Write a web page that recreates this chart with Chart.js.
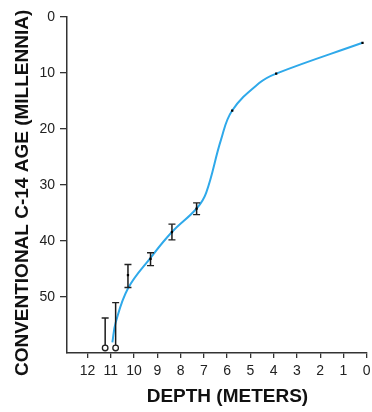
<!DOCTYPE html>
<html>
<head>
<meta charset="utf-8">
<script src="https://cdn.jsdelivr.net/npm/chart.js@4.4.0/dist/chart.umd.min.js"></script>
<style>
  html,body{margin:0;padding:0;background:#fff;}
  #wrap{width:372px;height:412px;}
</style>
</head>
<body>
<div id="wrap"><canvas id="c" width="372" height="412"></canvas></div>
<script>
// dated samples (depth in m, age in ka)
const sampleDepth = [0.18, 3.89, 5.78, 7.31, 8.37, 9.29, 10.26];
const sampleAge   = [4.6, 10.1, 16.7, 34.2, 38.4, 43.2, 46.1];

// error bars: lower/upper age for each bar
const errDepth = [7.31, 8.37, 9.29, 10.26, 10.79, 11.24];
const errLow   = [33.2, 37.0, 42.1, 44.2, 51.0, 53.75];
const errHigh  = [35.3, 39.8, 44.4, 48.3, 59.1, 59.1];
// bars that are only lower limits (circle at the bottom)
const limitBar = [false, false, false, false, true, true];

// fitted age curve
const curveDepth = [0.18, 3.89, 4.62, 5.78, 6.26, 6.9, 7.31, 8.37, 9.29, 10.25, 10.79, 10.93];
const curveAge   = [4.6, 10.1, 11.8, 16.7, 21.9, 31.4, 34.2, 38.4, 43.0, 48.4, 54.6, 58.1];

const xTicks = [0,1,2,3,4,5,6,7,8,9,10,11,12];
const yTicks = [0,10,20,30,40,50];

const FONT = "'Liberation Sans', Arial, sans-serif";
const AXIS = '#333';

// build error bar polyline with gaps between bars
const errPts = [];
const errStyles = [];
errDepth.forEach((d,i)=>{
  errPts.push({x:d, y:errLow[i]});  errStyles.push('line');
  errPts.push({x:d, y:errHigh[i]}); errStyles.push(limitBar[i] ? 'circle' : 'line');
  errPts.push({x:d, y:null});       errStyles.push(false);
});

const ctx = document.getElementById('c').getContext('2d');
new Chart(ctx, {
  type:'scatter',
  data:{
    datasets:[
      {
        label:'curve', type:'line',
        data: curveDepth.map((d,i)=>({x:d, y:curveAge[i]})),
        borderColor:'#2fa9ea', borderWidth:2, pointRadius:0,
        tension:0.4, fill:false, order:3
      },
      {
        label:'errors', type:'line',
        data: errPts, spanGaps:false,
        borderColor:'#1a1a1a', borderWidth:1.5,
        pointStyle: c => errStyles[c.dataIndex],
        pointRadius: c => errStyles[c.dataIndex]==='circle' ? 2.8 : 3.5,
        pointBorderColor:'#222', pointBackgroundColor:'#fff', pointBorderWidth:1.3,
        order:2
      },
      {
        label:'samples',
        data: sampleDepth.map((d,i)=>({x:d, y:sampleAge[i]})),
        pointStyle:'rect', pointRadius:1.6,
        backgroundColor:'#000', borderColor:'#000', borderWidth:0,
        order:1
      }
    ]
  },
  options:{
    responsive:false, animation:false,
    layout:{padding:{left:0, right:3, top:17, bottom:0}},
    plugins:{legend:{display:false}, tooltip:{enabled:false}},
    scales:{
      x:{
        type:'linear', reverse:true, min:0, max:12.88,
        afterBuildTicks: s => { s.ticks = xTicks.map(v=>({value:v})); },
        afterFit: s => { s.height = 59; },
        grid:{drawOnChartArea:false, drawTicks:true, tickLength:5, color:AXIS, lineWidth:1.3},
        border:{display:true, color:AXIS, width:1.5},
        ticks:{color:'#222', font:{family:FONT, size:14}, padding:5, maxRotation:0, autoSkip:false},
        title:{display:true, text:'    DEPTH (METERS)', color:'#111',
               font:{family:FONT, size:19, weight:'bold'}, padding:{top:0,bottom:4}}
      },
      y:{
        type:'linear', reverse:true, min:0, max:60,
        afterBuildTicks: s => { s.ticks = yTicks.map(v=>({value:v})); },
        afterFit: s => { s.width = 67; },
        grid:{drawOnChartArea:false, drawTicks:true, tickLength:7, color:AXIS, lineWidth:1.3},
        border:{display:true, color:AXIS, width:1.5},
        ticks:{color:'#222', font:{family:FONT, size:14}, padding:5, autoSkip:false},
        title:{display:true, text:'CONVENTIONAL C-14 AGE (MILLENNIA)   ', color:'#111',
               font:{family:FONT, size:19, weight:'bold'}, padding:{top:11,bottom:0}}
      }
    }
  }
});
</script>
</body>
</html>
